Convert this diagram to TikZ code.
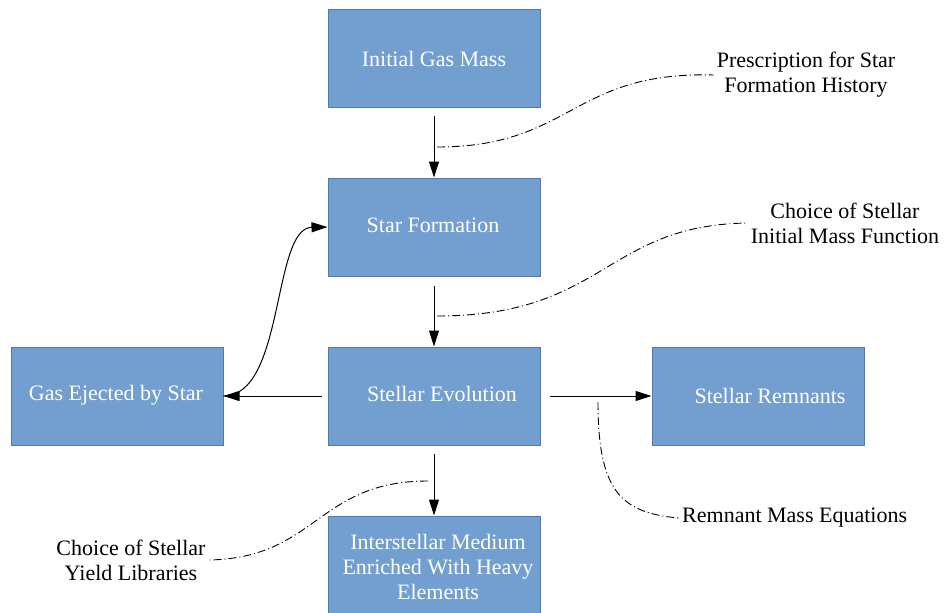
\documentclass[tikz,border=0pt]{standalone}
\usepackage{fontspec}
\setmainfont{Liberation Serif}
\usetikzlibrary{arrows.meta,positioning,calc}
\definecolor{boxfill}{RGB}{114,159,207}
\definecolor{boxline}{RGB}{79,121,183}

\begin{document}
\begin{tikzpicture}[x=1pt,y=-1pt,
  box/.style={draw=boxline, line width=1pt, fill=boxfill, minimum width=212pt, minimum height=98pt, inner sep=0pt},
  boxtext/.style={text=white, font=\fontsize{22}{25}\selectfont, align=center},
  note/.style={font=\fontsize{22}{25}\selectfont, align=center, inner sep=3pt},
  flow/.style={-{Triangle[length=16pt,width=10pt]}, line width=1pt},
  hint/.style={dash pattern=on 8pt off 3pt on 1pt off 3pt, line width=0.9pt}]
\useasboundingbox (0,0) rectangle (946,613);

\node[box, label={[boxtext, yshift=-1pt]center:Initial Gas Mass}] (init) at (434,58) {};
\node[box, label={[boxtext, xshift=-1pt, yshift=2pt]center:Star Formation}] (sf) at (434,227) {};
\node[box, label={[boxtext, xshift=8pt, yshift=2pt]center:Stellar Evolution}] (evo) at (434,396) {};
\node[box, label={[boxtext, xshift=-1pt, yshift=1pt]center:Gas Ejected by Star}] (gas) at (117,396) {};
\node[box, label={[boxtext, xshift=12pt]center:Stellar Remnants}] (rem) at (758,396) {};
\node[box, label={[boxtext, xshift=4pt, yshift=-2pt]center:Interstellar Medium\\Enriched With Heavy\\Elements}] (ism) at (434,565) {};

\node[note] (sfh) at (806,75) {Prescription for Star\\Formation History};
\node[note] (imf) at (845,223) {Choice of Stellar\\Initial Mass Function};
\node[note, anchor=west] (rme) at (679,518) {Remnant Mass Equations};
\node[note] (yld) at (131,560) {Choice of Stellar\\Yield Libraries};

\draw[flow, shorten <=8pt] (init) -- (sf);
\draw[flow, shorten <=9pt] (sf) -- (evo);
\draw[flow, shorten <=8pt] (evo) -- (ism);
\draw[flow, shorten <=6pt] (evo) -- (gas);
\draw[flow, shorten <=9pt] (evo.east) -- (rem.west);
\draw[flow] (gas.east) .. controls (285,396) and (272,228) .. (sf.west);

\coordinate (a1) at (437,147);
\coordinate (a2) at (437,316);
\coordinate (a3) at (598,402);
\coordinate (a4) at (428,481);
\draw[hint] (a1) .. controls (572,147) and (572,71) .. (sfh.west);
\draw[hint] (a2) .. controls (605,316) and (605,225) .. (imf.west);
\draw[hint] (a3) .. controls (598,490) and (620,513) .. (rme.west);
\draw[hint] (a4) .. controls (317,481) and (317,558) .. (yld.east);
\end{tikzpicture}
\end{document}
